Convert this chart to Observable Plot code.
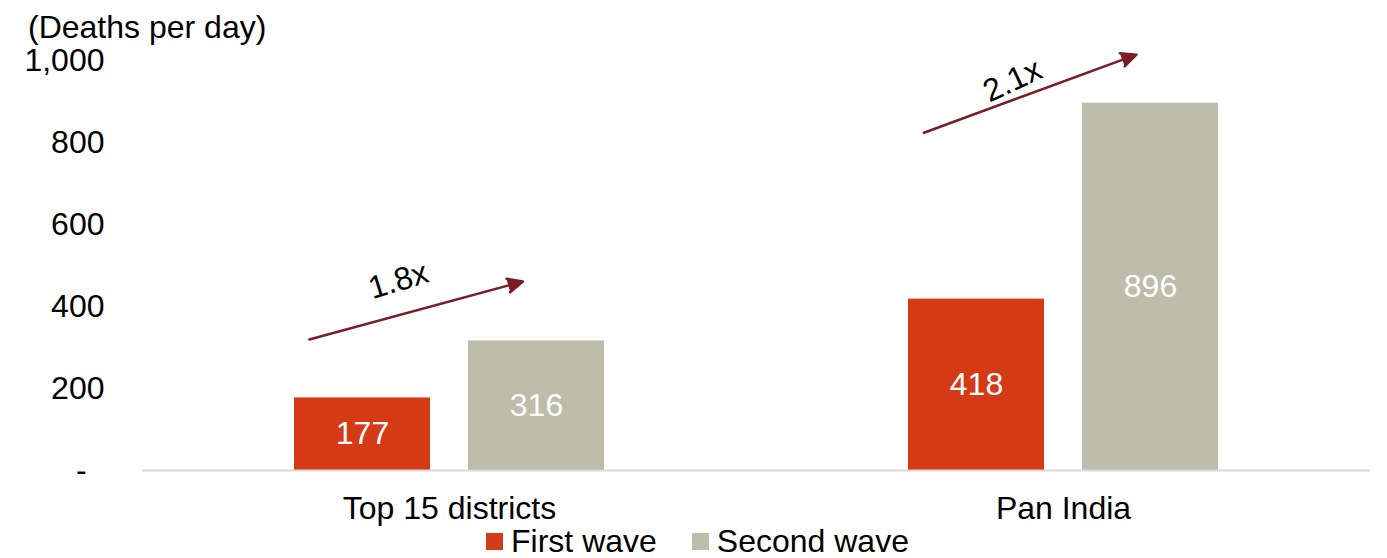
<!DOCTYPE html>
<html><head><meta charset="utf-8">
<script src="https://cdn.jsdelivr.net/npm/d3@7"></script>
<script src="https://cdn.jsdelivr.net/npm/@observablehq/plot@0.6"></script>
<style>
body{margin:0;background:#fff;font-family:"Liberation Sans",Arial,sans-serif;}
#wrap{width:1387px;height:558px;position:relative;overflow:hidden;background:#fff}
#title{height:40px;position:relative}
#title span{position:absolute;left:28px;top:9px;font-size:32px;line-height:36px;color:#000;white-space:nowrap}
#legend{height:33px;display:flex;justify-content:center;align-items:center;font-size:32px;color:#000;padding-left:8px}
.item{display:flex;align-items:center;white-space:nowrap}
.item + .item{margin-left:35px}
.sw{width:17px;height:17px;margin-right:8px}
svg{display:block}
</style></head><body>
<div id="wrap">
  <div id="title"><span></span></div>
  <div id="chart"></div>
  <div id="legend"></div>
</div>
<script>
// ---- data ----
const yLabel = "(Deaths per day)";
const groups = ["Top 15 districts", "Pan India"];
const series = ["First wave", "Second wave"];
const firstWave = [177, 418];
const secondWave = [316, 896];
const multiples = ["1.8x", "2.1x"];
const arrowStartY = [335, 844];
const arrowEndY = [450, 1000];
const multipleLabelY = [463, 951];
const yTicks = [0, 200, 400, 600, 800, 1000];

// ---- styles ----
const colors = ["#d53a16", "#bebda9"];
const arrowColor = "#7b1c27";
const font = "'Liberation Sans', Arial, sans-serif";
const fs = 32;

const rows = groups.flatMap((g, i) => [
  {group: g, series: series[0], value: firstWave[i]},
  {group: g, series: series[1], value: secondWave[i]}
]);
const notes = groups.map((g, i) => ({
  group: g, from: series[0], to: series[1],
  y1: arrowStartY[i], y2: arrowEndY[i], label: multiples[i], ly: multipleLabelY[i]
}));

document.querySelector("#title span").textContent = yLabel;

const chart = Plot.plot({
  width: 1387, height: 485,
  marginLeft: 142, marginRight: 17, marginTop: 20, marginBottom: 55,
  style: {fontFamily: font, fontSize: fs + "px", color: "#000", background: "transparent", overflow: "visible"},
  fx: {domain: groups, padding: 0, label: null},
  x: {domain: series, paddingInner: 0.217, paddingOuter: 0.863, axis: null},
  y: {domain: [0, 1000], label: null},
  color: {domain: series, range: colors},
  marks: [
    Plot.barY(rows, {fx: "group", x: "series", y: "value", fill: "series"}),
    Plot.ruleY([0], {stroke: "#d9d9d9", strokeWidth: 2}),
    Plot.text(rows, {fx: "group", x: "series", y: d => d.value / 2, text: d => String(d.value), fill: "white", fontSize: fs}),
    Plot.arrow(notes, {fx: "group", x1: "from", x2: "to", y1: "y1", y2: "y2", dx: -30,
      insetStart: -24, insetEnd: -17, stroke: arrowColor, fill: arrowColor, strokeWidth: 2.5, headLength: 10, headAngle: 50}),
    Plot.text(notes, {fx: "group", x: "from", y: "ly", dx: 36, text: "label",
      rotate: d => d.group === groups[1] ? -25 : -17, fontSize: fs, fill: "#000"}),
    Plot.axisY({ticks: yTicks, tickFormat: d => d === 0 ? "-\u00a0\u00a0" : d3.format(",")(d),
      tickSize: 0, tickPadding: 38, fontSize: fs, label: null}),
    Plot.axisFx({anchor: "bottom", tickSize: 0, tickPadding: 26, fontSize: fs, label: null})
  ]
});
document.getElementById("chart").appendChild(chart);

const legend = document.getElementById("legend");
series.forEach((s, i) => {
  const item = document.createElement("div");
  item.className = "item";
  const sw = document.createElement("div");
  sw.className = "sw";
  sw.style.background = colors[i];
  const t = document.createElement("span");
  t.textContent = s;
  item.appendChild(sw); item.appendChild(t);
  legend.appendChild(item);
});
</script>
</body></html>
